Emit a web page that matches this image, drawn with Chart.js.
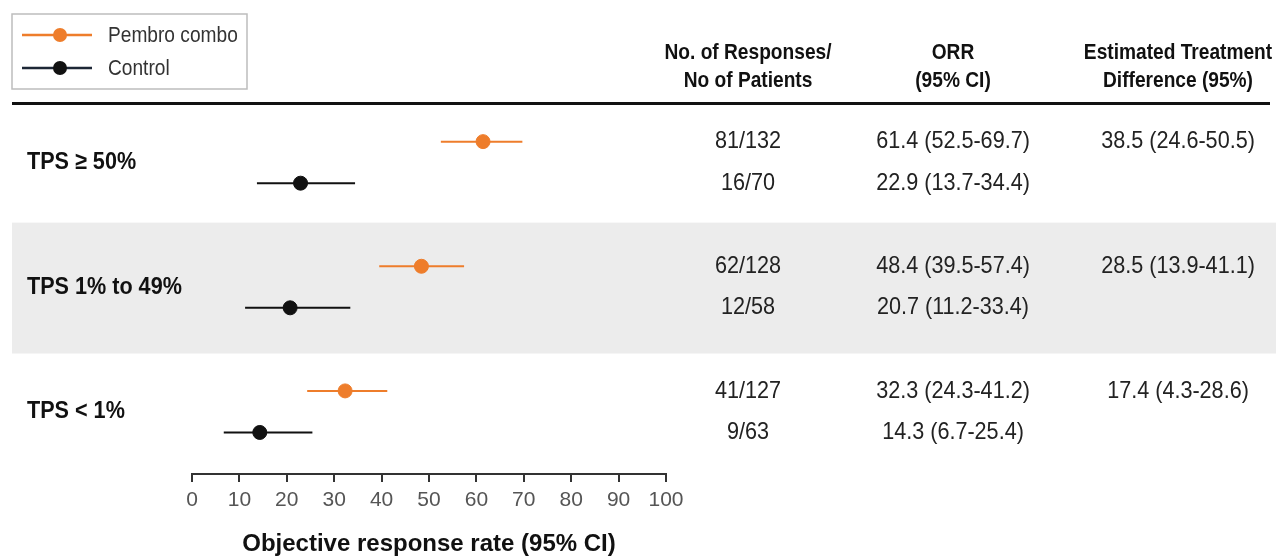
<!DOCTYPE html>
<html>
<head>
<meta charset="utf-8">
<script src="https://cdn.jsdelivr.net/npm/chart.js@4.4.1/dist/chart.umd.min.js"></script>
<style>
  html, body { margin: 0; padding: 0; background: #fff; }
  #wrap { width: 1276px; height: 559px; }
</style>
</head>
<body>
<div id="wrap"><canvas id="forest" width="1276" height="559"></canvas></div>
<script>
// subgroup rows, top to bottom
const groups = ['TPS \u2265 50%', 'TPS 1% to 49%', 'TPS < 1%'];

// ORR with 95% CI
const pembroOrr = [61.4, 48.4, 32.3];
const pembroLow = [52.5, 39.5, 24.3];
const pembroHigh = [69.7, 57.4, 41.2];
const controlOrr = [22.9, 20.7, 14.3];
const controlLow = [13.7, 11.2, 6.7];
const controlHigh = [34.4, 33.4, 25.4];

// table columns
const pembroResp = ['81/132', '62/128', '41/127'];
const controlResp = ['16/70', '12/58', '9/63'];
const diffText = ['38.5 (24.6-50.5)', '28.5 (13.9-41.1)', '17.4 (4.3-28.6)'];

const xTicks = [0, 10, 20, 30, 40, 50, 60, 70, 80, 90, 100];

const ORANGE = '#ee7d2b';
const BLACK = '#111111';
const FONT = '"Liberation Sans", Arial, sans-serif';

// each group takes 3 units on the y scale, pembro above control
const yPembro = i => (groups.length - 1 - i) * 3 + 2;
const yControl = i => (groups.length - 1 - i) * 3 + 1;
const ciText = (o, l, h) => o.toFixed(1) + ' (' + l.toFixed(1) + '-' + h.toFixed(1) + ')';

const datasets = [];
groups.forEach((g, i) => {
  datasets.push({
    type: 'line', order: 2, borderColor: ORANGE, borderWidth: 2, pointRadius: 0,
    data: [{ x: pembroLow[i], y: yPembro(i) }, { x: pembroHigh[i], y: yPembro(i) }]
  });
  datasets.push({
    type: 'line', order: 2, borderColor: BLACK, borderWidth: 2, pointRadius: 0,
    data: [{ x: controlLow[i], y: yControl(i) }, { x: controlHigh[i], y: yControl(i) }]
  });
});
datasets.push({
  label: 'Pembro combo', order: 1, backgroundColor: ORANGE, borderColor: ORANGE, pointRadius: 7,
  data: pembroOrr.map((v, i) => ({ x: v, y: yPembro(i) }))
});
datasets.push({
  label: 'Control', order: 1, backgroundColor: BLACK, borderColor: BLACK, pointRadius: 7,
  data: controlOrr.map((v, i) => ({ x: v, y: yControl(i) }))
});

// narrow-looking text: squeeze horizontally
function squeezed(ctx, txt, x, y, font, align, sx) {
  ctx.save();
  ctx.font = font;
  ctx.textAlign = align;
  ctx.textBaseline = 'middle';
  ctx.translate(x, y);
  ctx.scale(sx, 1);
  ctx.fillText(txt, 0, 0);
  ctx.restore();
}

const tablePlugin = {
  id: 'table',
  beforeDatasetsDraw(chart) {
    const ctx = chart.ctx;
    const y = chart.scales.y;
    // shaded middle band
    ctx.save();
    ctx.fillStyle = '#ececec';
    const top = y.getPixelForValue(6.05), bot = y.getPixelForValue(2.9);
    ctx.fillRect(12, top, chart.width - 12, bot - top);
    ctx.restore();
  },
  afterDraw(chart) {
    const ctx = chart.ctx;
    const y = chart.scales.y;
    ctx.save();

    // legend box
    ctx.strokeStyle = '#bdbdbd';
    ctx.lineWidth = 1.5;
    ctx.strokeRect(12, 14, 235, 75);
    [[ORANGE, ORANGE, 'Pembro combo', 35], ['#1d2736', BLACK, 'Control', 68]].forEach(([lc, dc, txt, ly]) => {
      ctx.strokeStyle = lc; ctx.lineWidth = 2.5;
      ctx.beginPath(); ctx.moveTo(22, ly); ctx.lineTo(92, ly); ctx.stroke();
      ctx.fillStyle = dc;
      ctx.beginPath(); ctx.arc(60, ly, 7, 0, Math.PI * 2); ctx.fill();
      ctx.fillStyle = '#333';
      squeezed(ctx, txt, 108, ly + 1, '22px ' + FONT, 'left', 0.87);
    });

    // column headers
    const cols = [748, 953, 1178];
    const heads = [['No. of Responses/', 'No of Patients'], ['ORR', '(95% CI)'], ['Estimated Treatment', 'Difference (95%)']];
    ctx.fillStyle = '#111';
    heads.forEach((h, c) => {
      squeezed(ctx, h[0], cols[c], 53, 'bold 22px ' + FONT, 'center', 0.87);
      squeezed(ctx, h[1], cols[c], 81, 'bold 22px ' + FONT, 'center', 0.87);
    });
    ctx.fillRect(12, 102, 1258, 3);

    // group labels and values
    groups.forEach((g, i) => {
      ctx.fillStyle = '#111';
      squeezed(ctx, g, 27, y.getPixelForValue(yPembro(i) - 0.5), 'bold 24px ' + FONT, 'left', 0.9);

      const yp = y.getPixelForValue(yPembro(i));
      const yc = y.getPixelForValue(yControl(i));
      const f = '24px ' + FONT;
      ctx.fillStyle = '#222';
      squeezed(ctx, pembroResp[i], cols[0], yp, f, 'center', 0.9);
      squeezed(ctx, controlResp[i], cols[0], yc, f, 'center', 0.9);
      squeezed(ctx, ciText(pembroOrr[i], pembroLow[i], pembroHigh[i]), cols[1], yp, f, 'center', 0.9);
      squeezed(ctx, ciText(controlOrr[i], controlLow[i], controlHigh[i]), cols[1], yc, f, 'center', 0.9);
      squeezed(ctx, diffText[i], cols[2], yp, f, 'center', 0.9);
    });
    ctx.restore();
  }
};

new Chart(document.getElementById('forest'), {
  type: 'scatter',
  data: { datasets: datasets },
  options: {
    responsive: false,
    animation: false,
    layout: { padding: { left: 192, right: 610, top: 17, bottom: 0 } },
    plugins: { legend: { display: false }, tooltip: { enabled: false } },
    scales: {
      x: {
        type: 'linear', min: 0, max: 100,
        afterBuildTicks: scale => { scale.ticks = xTicks.map(v => ({ value: v })); },
        border: { display: true, color: '#333', width: 2 },
        grid: { drawOnChartArea: false, drawTicks: true, tickLength: 8, tickColor: '#333', lineWidth: 2 },
        ticks: { color: '#555', padding: 6, font: { family: FONT, size: 21 } },
        title: {
          display: true, text: 'Objective response rate (95% CI)', color: '#111',
          padding: { top: 11, bottom: 0 },
          font: { family: FONT, size: 24, weight: 'bold' }
        }
      },
      y: { type: 'linear', min: 0, max: 11, display: false }
    }
  },
  plugins: [tablePlugin]
});
</script>
</body>
</html>
